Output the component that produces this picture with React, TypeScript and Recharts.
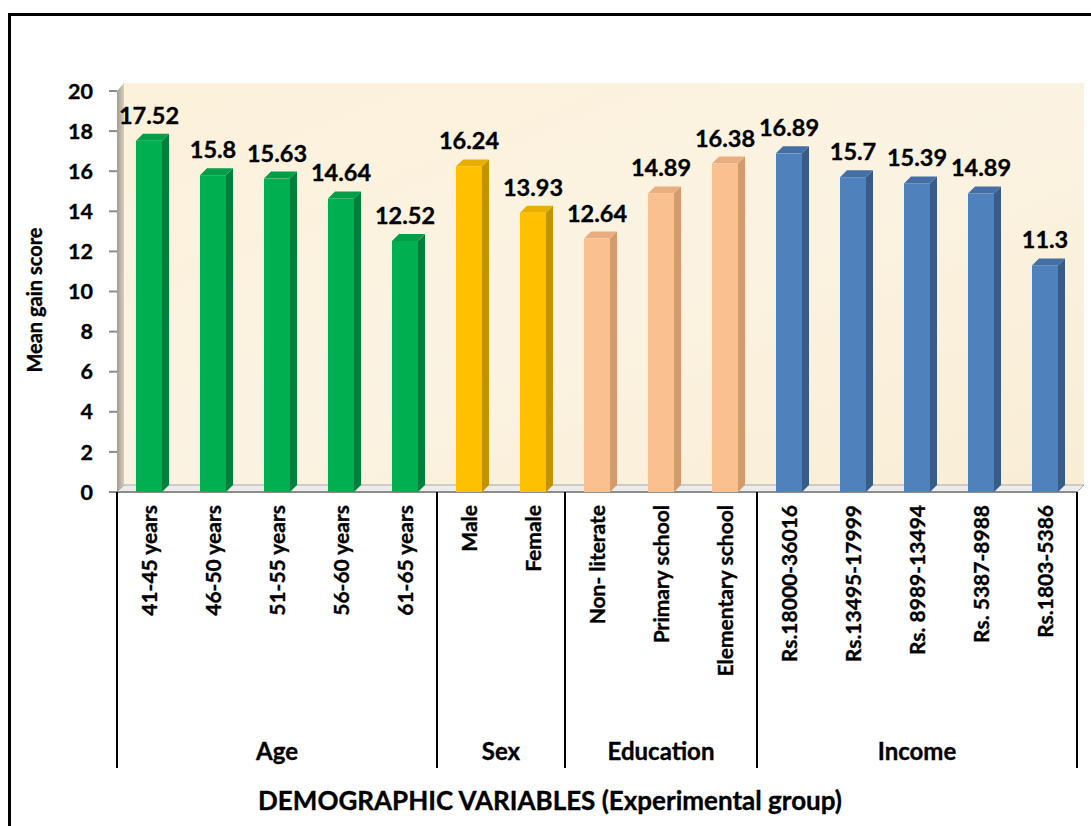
import React from "react";
import { BarChart, Bar, XAxis, YAxis, Cell, LabelList } from "recharts";

// categories on the x axis, in order
const categories = [
  "41-45 years",
  "46-50 years",
  "51-55 years",
  "56-60 years",
  "61-65 years",
  "Male",
  "Female",
  "Non- literate",
  "Primary school",
  "Elementary school",
  "Rs.18000-36016",
  "Rs.13495-17999",
  "Rs. 8989-13494",
  "Rs. 5387-8988",
  "Rs.1803-5386",
];

// mean gain score for each category
const scores = [17.52, 15.8, 15.63, 14.64, 12.52, 16.24, 13.93, 12.64, 14.89, 16.38, 16.89, 15.7, 15.39, 14.89, 11.3];

// group headings under the axis and how many categories each spans
const groupNames = ["Age", "Sex", "Education", "Income"];
const groupSizes = [5, 2, 3, 5];

const yTicks = [0, 2, 4, 6, 8, 10, 12, 14, 16, 18, 20];

const COLORS: Record<string, { front: string; side: string; top: string }> = {
  Age: { front: "#00B050", side: "#00803A", top: "#009E47" },
  Sex: { front: "#FFC000", side: "#C49300", top: "#E8AE00" },
  Education: { front: "#FAC090", side: "#D39B6B", top: "#E9AE80" },
  Income: { front: "#4F81BD", side: "#375C88", top: "#436FA5" },
};

// layout
const W = 1091;
const H = 826;
const PL = 117; // plot left
const PR = 1077; // plot right
const PT = 91; // plot top (value 20)
const PB = 492; // plot bottom (value 0)
const DX = 7; // depth offset
const DY = 7;
const FONT = "Lato, 'Open Sans', sans-serif";
const BOLD = { fontFamily: FONT, fontWeight: 700, fill: "#000", stroke: "#000", strokeWidth: 0.35 };

const groupOf: string[] = [];
const groupStart: Record<number, number> = {};
groupNames.forEach((g, gi) => {
  groupStart[groupOf.length] = gi;
  for (let i = 0; i < groupSizes[gi]; i++) groupOf.push(g);
});

const data = categories.map((name, i) => ({ name, score: scores[i], group: groupOf[i] }));

const BAND = (PR - PL) / categories.length;

const Bar3D = (props: any) => {
  const { x, y, width, height, payload } = props;
  if (height <= 0) return null;
  const c = COLORS[payload.group];
  return (
    <g>
      <polygon
        points={`${x + width},${y} ${x + width + DX},${y - DY} ${x + width + DX},${y + height - DY} ${x + width},${y + height}`}
        fill={c.side}
      />
      <polygon
        points={`${x},${y} ${x + DX},${y - DY} ${x + width + DX},${y - DY} ${x + width},${y}`}
        fill={c.top}
      />
      <rect x={x} y={y} width={width} height={height} fill={c.front} />
    </g>
  );
};

const CategoryTick = (props: any) => {
  const { x, y, payload, index } = props;
  const items: React.ReactNode[] = [];
  const gi = groupStart[index];
  if (gi !== undefined) {
    const left = x - BAND / 2;
    items.push(<line key="l" x1={left} y1={y} x2={left} y2={y + 276} stroke="#000" strokeWidth={2} />);
    items.push(
      <text key="g" x={left + (groupSizes[gi] * BAND) / 2} y={y + 268} textAnchor="middle" fontSize={24} {...BOLD}>
        {groupNames[gi]}
      </text>
    );
  }
  if (index === categories.length - 1) {
    const right = x + BAND / 2;
    items.push(<line key="r" x1={right} y1={y} x2={right} y2={y + 276} stroke="#000" strokeWidth={2} />);
  }
  return (
    <g>
      {items}
      <text
        x={x}
        y={y + 13}
        dy="0.36em"
        transform={`rotate(-90, ${x}, ${y + 13})`}
        textAnchor="end"
        fontSize={21}
        {...BOLD}
      >
        {payload.value}
      </text>
    </g>
  );
};

const ValueLabel = (props: any) => {
  const { x, y, width, value } = props;
  return (
    <text x={x + width / 2} y={y - 17} textAnchor="middle" fontSize={23.5} {...BOLD}>
      {value}
    </text>
  );
};

function Backdrop() {
  return (
    <svg width={W} height={H} style={{ position: "absolute", left: 0, top: 0 }}>
      <defs>
        <linearGradient id="wall" x1="0" y1="0" x2="1" y2="1">
          <stop offset="0%" stopColor="#FCF1DA" />
          <stop offset="50%" stopColor="#FBF3E2" />
          <stop offset="100%" stopColor="#F9EDD4" />
        </linearGradient>
        <linearGradient id="side" x1="0" y1="0" x2="1" y2="0">
          <stop offset="0%" stopColor="#A39C90" />
          <stop offset="100%" stopColor="#D6CEBE" />
        </linearGradient>
      </defs>
      <rect x={PL + DX} y={PT - DY - 1} width={PR - PL} height={PB - PT + 1} fill="url(#wall)" />
      <polygon points={`${PL},${PT} ${PL + DX},${PT - DY - 1} ${PL + DX},${PB - DY} ${PL},${PB}`} fill="url(#side)" />
      <polygon
        points={`${PL},${PB} ${PL + DX},${PB - DY} ${PR + DX},${PB - DY} ${PR},${PB}`}
        fill="#ECECEC"
        stroke="#A8A8A8"
        strokeWidth={1}
      />
      <line x1={PL - 8} y1={PB} x2={PR} y2={PB} stroke="#8C8C8C" strokeWidth={2} />
      <text
        x={35}
        y={300}
        transform="rotate(-90, 35, 300)"
        dy="0.36em"
        textAnchor="middle"
        fontSize={20}
        {...BOLD}
      >
        Mean gain score
      </text>
      <text x={550} y={810} textAnchor="middle" fontSize={26} {...BOLD}>
        DEMOGRAPHIC VARIABLES (Experimental group)
      </text>
    </svg>
  );
}

export default function App() {
  return (
    <div style={{ position: "fixed", left: 0, top: 0, width: W, height: H, overflow: "hidden", background: "#fff" }}>
      <div
        style={{
          position: "absolute",
          left: 8,
          top: 13,
          width: 1200,
          height: 900,
          borderTop: "3px solid #000",
          borderLeft: "3px solid #000",
        }}
      />
      <Backdrop />
      <div style={{ position: "absolute", left: 0, top: 0 }}>
        <BarChart
          width={W}
          height={H}
          data={data}
          margin={{ top: PT, right: W - PR, bottom: H - PB - 300, left: 8 }}
          barCategoryGap={0}
        >
          <YAxis
            width={PL - 8}
            domain={[0, 20]}
            ticks={yTicks}
            interval={0}
            axisLine={false}
            tickLine={{ stroke: "#8C8C8C", strokeWidth: 2 }}
            tickSize={8}
            tickMargin={16}
            tick={{ fontSize: 21.5, ...BOLD }}
          />
          <XAxis
            dataKey="name"
            height={300}
            interval={0}
            axisLine={false}
            tickLine={false}
            tickSize={0}
            tickMargin={0}
            tick={<CategoryTick />}
          />
          <Bar dataKey="score" barSize={26} isAnimationActive={false} shape={<Bar3D />}>
            {data.map((d, i) => (
              <Cell key={`cell-${i}`} fill={COLORS[d.group].front} />
            ))}
            <LabelList dataKey="score" content={<ValueLabel />} />
          </Bar>
        </BarChart>
      </div>
    </div>
  );
}
